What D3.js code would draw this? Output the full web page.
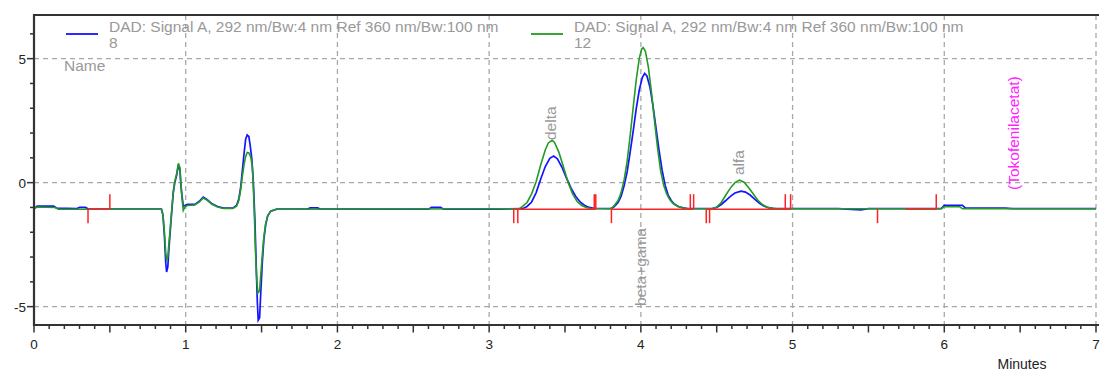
<!DOCTYPE html>
<html>
<head>
<meta charset="utf-8">
<script src="https://cdn.jsdelivr.net/npm/d3@7"></script>
<style>
  html, body { margin: 0; padding: 0; background: #fff; }
  svg { display: block; font-family: Arial, "Liberation Sans", sans-serif; }
</style>
</head>
<body>
<svg id="chart" width="1100" height="373"></svg>
<script>
// ---------- data ----------
const signalTitle = "DAD: Signal A, 292 nm/Bw:4 nm Ref 360 nm/Bw:100 nm";
const sampleNames = ["8", "12"];
const xTickLabels = ["0", "1", "2", "3", "4", "5", "6", "7"];
const yTickLabels = ["-5", "0", "5"];
const xAxisTitle = "Minutes";
const nameLabel = "Name";

// sample 8 (blue) [minutes, signal]
const sample8 = [
  [0,-1.05],[0.02,-0.95],[0.13,-0.95],[0.15,-1.03],[0.28,-1.05],[0.3,-1.0],[0.34,-1.0],[0.36,-1.07],
  [0.84,-1.07],[0.85,-1.3],[0.86,-2.2],[0.868,-3.2],[0.874,-3.6],[0.882,-3.4],[0.89,-2.6],[0.9,-1.8],
  [0.91,-1.0],[0.918,-0.4],[0.928,0.0],[0.94,0.3],[0.952,0.72],[0.962,0.5],[0.968,-0.1],[0.975,-0.5],
  [0.984,-0.95],[0.995,-0.92],[1.01,-0.88],[1.06,-0.88],[1.09,-0.75],[1.115,-0.58],[1.14,-0.68],
  [1.17,-0.84],[1.21,-0.96],[1.25,-1.03],[1.31,-1.03],[1.335,-0.92],[1.35,-0.65],[1.362,-0.2],
  [1.372,0.4],[1.385,1.2],[1.395,1.75],[1.405,1.92],[1.416,1.86],[1.425,1.5],[1.435,1.0],[1.442,0.4],
  [1.448,-0.3],[1.456,-1.5],[1.464,-3.2],[1.472,-4.8],[1.478,-5.55],[1.487,-5.45],[1.495,-4.4],
  [1.505,-3.2],[1.515,-2.3],[1.527,-1.7],[1.54,-1.35],[1.56,-1.15],[1.6,-1.07],[1.8,-1.07],
  [1.82,-1.02],[1.87,-1.02],[1.89,-1.07],[2.6,-1.07],[2.62,-1.0],[2.68,-1.0],[2.7,-1.07],[3.05,-1.07],
  [3.22,-1.05],[3.25,-0.96],[3.28,-0.78],[3.31,-0.4],[3.34,0.15],[3.37,0.65],[3.40,0.98],[3.425,1.07],
  [3.45,0.96],[3.48,0.62],[3.51,0.18],[3.54,-0.22],[3.57,-0.55],[3.60,-0.78],[3.63,-0.92],[3.66,-1.0],
  [3.69,-1.04],[3.8,-1.05],[3.82,-0.99],[3.85,-0.8],[3.87,-0.55],[3.89,-0.12],[3.91,0.45],[3.93,1.25],
  [3.95,2.1],[3.97,3.0],[3.99,3.75],[4.01,4.25],[4.025,4.4],[4.04,4.3],[4.06,3.85],[4.08,3.1],
  [4.10,2.2],[4.12,1.3],[4.14,0.5],[4.16,-0.1],[4.18,-0.5],[4.2,-0.72],[4.22,-0.86],[4.25,-0.97],
  [4.28,-1.02],[4.31,-1.05],[4.47,-1.05],[4.50,-1.0],[4.53,-0.88],[4.56,-0.72],[4.59,-0.55],
  [4.62,-0.42],[4.66,-0.34],[4.69,-0.38],[4.72,-0.5],[4.75,-0.66],[4.78,-0.82],[4.81,-0.94],
  [4.84,-1.01],[4.88,-1.05],[5.3,-1.05],[5.45,-1.1],[5.5,-1.05],[5.98,-1.05],[6.0,-0.92],[6.12,-0.92],
  [6.14,-1.03],[6.4,-1.03],[6.45,-1.05],[7,-1.05]
];

// sample 12 (green) [minutes, signal]
const sample12 = [
  [0,-1.05],[0.02,-0.98],[0.14,-1.0],[0.16,-1.07],[0.84,-1.07],[0.85,-1.3],[0.86,-2.0],[0.868,-2.8],
  [0.874,-3.1],[0.882,-3.0],[0.89,-2.4],[0.9,-1.7],[0.91,-0.95],[0.918,-0.35],[0.928,0.05],[0.94,0.35],
  [0.952,0.78],[0.962,0.6],[0.968,0.0],[0.975,-0.6],[0.984,-1.12],[0.995,-0.98],[1.01,-0.92],
  [1.06,-0.9],[1.09,-0.78],[1.115,-0.62],[1.14,-0.7],[1.17,-0.86],[1.21,-0.98],[1.25,-1.04],
  [1.31,-1.04],[1.335,-0.95],[1.35,-0.72],[1.362,-0.3],[1.372,0.2],[1.385,0.75],[1.395,1.05],
  [1.405,1.22],[1.416,1.2],[1.428,1.05],[1.438,0.7],[1.445,0.0],[1.452,-1.2],[1.46,-2.8],[1.468,-3.9],
  [1.476,-4.45],[1.487,-4.35],[1.495,-3.7],[1.505,-2.9],[1.515,-2.2],[1.527,-1.65],[1.54,-1.35],
  [1.56,-1.15],[1.6,-1.07],[3.2,-1.05],[3.22,-0.96],[3.25,-0.8],[3.28,-0.45],[3.31,0.05],[3.34,0.72],
  [3.37,1.32],[3.39,1.6],[3.415,1.71],[3.43,1.63],[3.46,1.22],[3.49,0.63],[3.52,0.02],[3.55,-0.45],
  [3.58,-0.76],[3.61,-0.92],[3.64,-1.0],[3.67,-1.04],[3.8,-1.05],[3.82,-0.96],[3.85,-0.72],[3.87,-0.4],
  [3.89,0.12],[3.91,0.88],[3.93,1.93],[3.95,3.06],[3.97,4.17],[3.99,5.02],[4.005,5.38],[4.015,5.45],
  [4.03,5.3],[4.05,4.64],[4.07,3.64],[4.09,2.49],[4.11,1.4],[4.13,0.5],[4.15,-0.1],[4.17,-0.45],
  [4.19,-0.68],[4.21,-0.83],[4.24,-0.95],[4.27,-1.01],[4.3,-1.04],[4.47,-1.05],[4.50,-0.98],
  [4.53,-0.8],[4.56,-0.5],[4.59,-0.22],[4.62,0.0],[4.65,0.1],[4.68,0.02],[4.71,-0.2],[4.74,-0.45],
  [4.77,-0.7],[4.80,-0.88],[4.83,-0.98],[4.86,-1.03],[4.9,-1.05],[5.98,-1.05],[6.0,-0.97],[6.1,-0.97],
  [6.12,-1.05],[7,-1.05]
];

// integration baselines (red): [start, end] in minutes, drawn at the baseline level
const baselineLevel = -1.07;
const baselineSegments = [[0.356,0.5],[3.162,3.703],[3.806,4.348],[4.431,4.987],[5.745,5.947]];
// integration event ticks: [minutes, direction] (-1 down, +1 up)
const eventTicks = [
  [0.356,-1],[0.5,1],[3.162,-1],[3.189,-1],[3.693,1],[3.703,1],[3.806,-1],
  [4.326,1],[4.348,1],[4.431,-1],[4.453,-1],[4.952,1],[4.987,1],[5.56,-1],[5.947,1]
];

// peak annotations
const peakNames = ["delta", "beta+gama", "alfa", "(Tokofenilacetat)"];
const peakTimes = [3.41, 4.0, 4.65, 6.46];

// ---------- layout ----------
const W = 1100, H = 373;
const m = { left: 34, right: 4, top: 15, bottom: 48 };
const svg = d3.select("#chart");

const x = d3.scaleLinear().domain([0, 7]).range([m.left, W - m.right]);
const y = d3.scaleLinear().domain([-5.74, 6.76]).range([H - m.bottom, m.top]);

const gridColor = "#a8a8a8";
const textGray = "#999999";
const blue = "#1414ff";
const green = "#239a23";
const red = "#ff2222";

// grid
const grid = svg.append("g");
grid.selectAll("line.v").data(d3.range(1, 8)).join("line")
  .attr("x1", d => x(d)).attr("x2", d => x(d))
  .attr("y1", m.top).attr("y2", H - m.bottom)
  .attr("stroke", gridColor).attr("stroke-width", 1.3).attr("stroke-dasharray", "5,4");
grid.selectAll("line.h").data(yTickLabels.map(Number)).join("line")
  .attr("x1", m.left).attr("x2", W - m.right)
  .attr("y1", d => y(d)).attr("y2", d => y(d))
  .attr("stroke", gridColor).attr("stroke-width", 1.3).attr("stroke-dasharray", "5,4");

// traces
const line = d3.line().x(d => x(d[0])).y(d => y(d[1]));
svg.append("path").datum(sample8).attr("d", line)
  .attr("fill", "none").attr("stroke", blue).attr("stroke-width", 1.7);
svg.append("path").datum(sample12).attr("d", line)
  .attr("fill", "none").attr("stroke", green).attr("stroke-width", 1.6);

// integration marks
const ev = svg.append("g").attr("stroke", red).attr("stroke-width", 1.5);
ev.selectAll("line.seg").data(baselineSegments).join("line")
  .attr("x1", d => x(d[0])).attr("x2", d => x(d[1]))
  .attr("y1", y(baselineLevel)).attr("y2", y(baselineLevel));
ev.selectAll("line.tick").data(eventTicks).join("line")
  .attr("x1", d => x(d[0])).attr("x2", d => x(d[0]))
  .attr("y1", y(baselineLevel))
  .attr("y2", d => d[1] < 0 ? y(baselineLevel) + 14 : y(baselineLevel) - 15);

// peak labels (rotated)
const labelY = [140, 306, 175, 190];
const labelColor = [textGray, textGray, textGray, "#ff22ff"];
svg.append("g").selectAll("text").data(peakNames).join("text")
  .attr("transform", (d, i) => `translate(${x(peakTimes[i]) + 5},${labelY[i]}) rotate(-90)`)
  .attr("font-size", 15.5)
  .attr("fill", (d, i) => labelColor[i])
  .attr("text-anchor", "start")
  .text(d => d);

// axes
const axisColor = "#333";
const gx = svg.append("g").attr("transform", `translate(0,${H - m.bottom})`);
gx.selectAll("line").data(d3.range(0, 71)).join("line")
  .attr("x1", d => x(d / 10)).attr("x2", d => x(d / 10))
  .attr("y1", 0).attr("y2", d => (d % 5 === 0) ? 7.5 : 4)
  .attr("stroke", axisColor).attr("stroke-width", 1.5);
gx.append("line").attr("x1", m.left - 1).attr("x2", W - 1).attr("y1", 0).attr("y2", 0)
  .attr("stroke", axisColor).attr("stroke-width", 2.2);
gx.selectAll("text").data(xTickLabels).join("text")
  .attr("x", d => x(+d)).attr("y", 24)
  .attr("text-anchor", "middle").attr("font-size", 13.5).attr("fill", "#222")
  .text(d => d);

const gy = svg.append("g");
gy.selectAll("line").data(d3.range(-5, 7)).join("line")
  .attr("x1", d => (d % 5 === 0) ? m.left - 7 : m.left - 4).attr("x2", m.left)
  .attr("y1", d => y(d)).attr("y2", d => y(d))
  .attr("stroke", axisColor).attr("stroke-width", 1.5);
gy.append("line").attr("x1", m.left).attr("x2", m.left).attr("y1", m.top - 1).attr("y2", H - m.bottom + 1)
  .attr("stroke", axisColor).attr("stroke-width", 2.2);
gy.selectAll("text").data(yTickLabels).join("text")
  .attr("x", m.left - 8).attr("y", d => y(+d) + 5)
  .attr("text-anchor", "end").attr("font-size", 13.5).attr("fill", "#222")
  .text(d => d);

// top border
svg.append("line").attr("x1", m.left - 1).attr("x2", W - 1).attr("y1", m.top).attr("y2", m.top)
  .attr("stroke", axisColor).attr("stroke-width", 2.2);

// x axis title
svg.append("text").attr("x", 1022).attr("y", 369).attr("text-anchor", "middle")
  .attr("font-size", 14).attr("fill", "#222").text(xAxisTitle);

// legend
const legendColors = [blue, green];
const legendX = [66, 531];
const lg = svg.append("g");
sampleNames.forEach((s, i) => {
  lg.append("line").attr("x1", legendX[i]).attr("x2", legendX[i] + 32)
    .attr("y1", 34).attr("y2", 34).attr("stroke", legendColors[i]).attr("stroke-width", 1.8);
  lg.append("text").attr("x", legendX[i] + 43).attr("y", 32)
    .attr("font-size", 15.5).attr("fill", textGray).text(signalTitle);
  lg.append("text").attr("x", legendX[i] + 43).attr("y", 48)
    .attr("font-size", 15.5).attr("fill", textGray).text(s);
});
lg.append("text").attr("x", 64).attr("y", 71)
  .attr("font-size", 15.5).attr("fill", textGray).text(nameLabel);
</script>
</body>
</html>
